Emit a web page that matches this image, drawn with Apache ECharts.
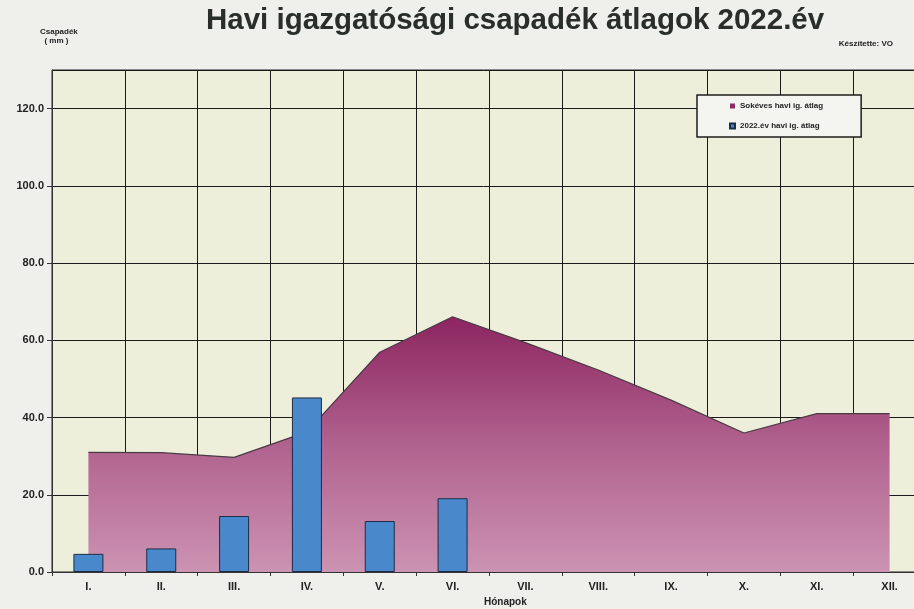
<!DOCTYPE html>
<html>
<head>
<meta charset="utf-8">
<script src="https://cdn.jsdelivr.net/npm/echarts@6/dist/echarts.min.js"></script>
<style>
  html, body { margin: 0; padding: 0; background: #efefec; }
  #chart { width: 914px; height: 609px; }
</style>
</head>
<body>
<div id="chart"></div>
<script>
const months = ["I.", "II.", "III.", "IV.", "V.", "VI.", "VII.", "VIII.", "IX.", "X.", "XI.", "XII."];
// sokéves havi igazgatósági átlag (mm)
const longTermAvg = [31.0, 30.9, 29.7, 36.3, 56.9, 66.1, 59.4, 52.3, 44.5, 36.0, 41.0, 41.0];
// 2022. év havi igazgatósági átlag (mm)
const avg2022 = [4.7, 6.1, 14.5, 45.2, 13.2, 19.1, null, null, null, null, null, null];
const yTicks = [0, 20, 40, 60, 80, 100, 120];

const FONT = "Liberation Sans, Arial, sans-serif";

const option = {
  backgroundColor: "#efefec",
  animation: false,
  title: {
    text: "Havi igazgatósági csapadék átlagok 2022.év",
    left: 201,
    top: 1,
    textStyle: { fontFamily: FONT, fontSize: 29.5, fontWeight: "bold", color: "#2a2e2a" },
  },
  legend: {
    left: 697,
    top: 95,
    orient: "vertical",
    backgroundColor: "#f4f4f1",
    borderColor: "#1e1e1e",
    borderWidth: 1.5,
    padding: [7, 38, 7, 32],
    itemGap: 12,
    itemWidth: 5,
    itemHeight: 5,
    icon: "rect",
    textStyle: { fontFamily: FONT, fontSize: 8, fontWeight: "bold", color: "#222" },
    data: ["Sokéves havi ig. átlag", "2022.év havi ig. átlag"],
  },
  graphic: [
    {
      type: "text",
      left: 40,
      top: 27,
      style: {
        text: "Csapadék\n  ( mm )",
        font: "bold 8px " + FONT,
        fill: "#222",
        lineHeight: 9,
      },
    },
    {
      type: "text",
      right: 21,
      top: 40,
      style: { text: "Készítette: VO", font: "bold 8px " + FONT, fill: "#222" },
    },
    {
      type: "text",
      left: 484,
      top: 597,
      style: { text: "Hónapok", font: "bold 10px " + FONT, fill: "#222" },
    },
  ],
  grid: {
    left: 52,
    width: 874,
    top: 70,
    bottom: 37,
    outerBoundsMode: "none",
    containLabel: false,
    show: true,
    backgroundColor: "#edefdb",
    borderColor: "#222",
    borderWidth: 1,
  },
  xAxis: {
    type: "category",
    data: months,
    boundaryGap: true,
    axisLine: { lineStyle: { color: "#333", width: 1 } },
    axisTick: { show: true, length: 4, lineStyle: { color: "#333" } },
    axisLabel: { fontFamily: FONT, fontSize: 11, fontWeight: "bold", color: "#222", margin: 9 },
    splitLine: { show: true, lineStyle: { color: "#1a1a1a", width: 1 } },
  },
  yAxis: {
    type: "value",
    min: 0,
    max: 130,
    interval: 20,
    axisLine: { show: true, lineStyle: { color: "#333", width: 1 } },
    axisTick: { show: true, length: 5, lineStyle: { color: "#333" } },
    axisLabel: {
      fontFamily: FONT,
      fontSize: 11,
      fontWeight: "bold",
      color: "#222",
      margin: 8,
      showMaxLabel: false,
      formatter: (v) => (yTicks.includes(v) ? v.toFixed(1) : ""),
    },
    splitLine: { show: true, lineStyle: { color: "#1a1a1a", width: 1 } },
  },
  series: [
    {
      name: "Sokéves havi ig. átlag",
      type: "line",
      data: longTermAvg,
      symbol: "none",
      z: 2,
      itemStyle: { color: "#8e2a63" },
      lineStyle: { color: "#4a3a44", width: 1.2 },
      areaStyle: {
        opacity: 1,
        color: new echarts.graphic.LinearGradient(0, 0, 0, 1, [
          { offset: 0, color: "#8c2560" },
          { offset: 0.5, color: "#b0628e" },
          { offset: 1, color: "#cc93b2" },
        ]),
      },
    },
    {
      name: "2022.év havi ig. átlag",
      type: "bar",
      data: avg2022,
      barWidth: 30,
      z: 3,
      itemStyle: { color: "#4a88cc", borderColor: "#1d2c44", borderWidth: 1 },
    },
  ],
};

const myChart = echarts.init(document.getElementById("chart"));
myChart.setOption(option);
</script>
</body>
</html>
